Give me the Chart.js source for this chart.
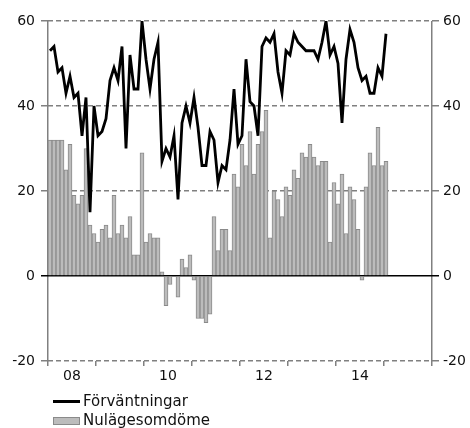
<!DOCTYPE html>
<html>
<head>
<meta charset="utf-8">
<script src="https://cdn.jsdelivr.net/npm/chart.js@4"></script>
<style>
  html, body { margin: 0; padding: 0; background: #fff; }
  #wrap { position: relative; width: 470px; height: 428px; }
  #legend { position: absolute; left: 0; top: 392px; font-family: "DejaVu Sans", Verdana, sans-serif; font-size: 15px; color: #111; }
  .item { position: absolute; left: 53px; white-space: nowrap; height: 18px; width: 300px; }
  .item span.txt { position: absolute; left: 30px; top: 0; line-height: 18px; }
  .swl { position: absolute; left: 0; top: 8px; width: 27px; height: 3px; background: #000; }
  .swb { position: absolute; left: 0; top: 6px; width: 25px; height: 6px; background: #bcbcbc; border: 1px solid #8a8a8a; }
</style>
</head>
<body>
<div id="wrap">
  <canvas id="c" width="470" height="428"></canvas>
  <div id="legend">
    <div class="item" style="top:0px"><div class="swl"></div><span class="txt">Förväntningar</span></div>
    <div class="item" style="top:19px"><div class="swb"></div><span class="txt">Nulägesomdöme</span></div>
  </div>
</div>
<script>
// Months Jan 2008 - Dec 2015 (categories)
const years = [2008, 2009, 2010, 2011, 2012, 2013, 2014, 2015];
const months = [];
for (const y of years) for (let m = 1; m <= 12; m++) months.push(y + '-' + String(m).padStart(2, '0'));

// Year tick labels (shown at mid-year)
const xTickYears = [2008, 2010, 2012, 2014];
const xTickLabels = ['08', '10', '12', '14'];

// Förväntningar (line), Jan 2008 - Jan 2015
const forvantningar = [
  53, 54, 48, 49, 43, 47, 42, 43, 33, 42, 15, 40,
  33, 34, 37, 46, 49, 46, 54, 30, 52, 44, 44, 60,
  51, 44, 51, 55, 27, 30, 28, 33, 18, 36, 40, 36,
  42, 35, 26, 26, 34, 32, 22, 26, 25, 32, 44, 31,
  33, 51, 41, 40, 33, 54, 56, 55, 57, 48, 43, 53,
  52, 57, 55, 54, 53, 53, 53, 51, 55, 60, 52, 54,
  50, 36, 51, 58, 55, 49, 46, 47, 43, 43, 49, 47,
  57
];

// Nulägesomdöme (bars), Jan 2008 - Jan 2015
const nulagesomdome = [
  32, 32, 32, 32, 25, 31, 19, 17, 19, 30, 12, 10,
  8, 11, 12, 9, 19, 10, 12, 9, 14, 5, 5, 29,
  8, 10, 9, 9, 1, -7, -2, 0, -5, 4, 2, 5,
  -1, -10, -10, -11, -9, 14, 6, 11, 11, 6, 24, 21,
  31, 26, 34, 24, 31, 34, 39, 9, 20, 18, 14, 21,
  19, 25, 23, 29, 28, 31, 28, 26, 27, 27, 8, 22,
  17, 24, 10, 21, 18, 11, -1, 21, 29, 26, 35, 26,
  27
];

const yMin = -20, yMax = 60, yStep = 20;
const GRAY = '#808080';
const CLEAR = 'rgba(0,0,0,0)';
const FONT = { family: '"DejaVu Sans", Verdana, sans-serif', size: 14 };

new Chart(document.getElementById('c'), {
  data: {
    labels: months,
    datasets: [
      {
        type: 'line',
        label: 'Förväntningar',
        data: forvantningar,
        borderColor: '#000',
        borderWidth: 2.8,
        pointRadius: 0,
        tension: 0,
        order: 0,
        yAxisID: 'y'
      },
      {
        type: 'bar',
        label: 'Nulägesomdöme',
        data: nulagesomdome,
        backgroundColor: '#bcbcbc',
        borderColor: '#8a8a8a',
        borderWidth: 1,
        barPercentage: 1,
        categoryPercentage: 1,
        order: 1,
        yAxisID: 'y'
      }
    ]
  },
  options: {
    responsive: false,
    animation: false,
    layout: { padding: { top: 21, bottom: 37, left: 0, right: 0 } },
    plugins: { legend: { display: false }, tooltip: { enabled: false } },
    scales: {
      x: {
        type: 'category',
        offset: true,
        afterFit: (s) => { s.height = 30; },
        border: { display: false },
        grid: {
          offset: true,
          drawOnChartArea: true,
          drawTicks: true,
          tickLength: 5,
          tickWidth: 1.5,
          lineWidth: 1.5,
          color: (ctx) => (ctx.index === undefined || ctx.index === 0) ? GRAY : CLEAR,
          tickColor: (ctx) => (ctx.index === undefined || ctx.index % 12 === 0) ? GRAY : CLEAR
        },
        ticks: {
          autoSkip: false,
          maxRotation: 0,
          minRotation: 0,
          padding: 2,
          labelOffset: -2,
          color: '#111',
          font: FONT,
          callback: function (val, idx) {
            const lab = months[idx];
            const y = +lab.slice(0, 4), m = +lab.slice(5);
            const k = xTickYears.indexOf(y);
            return (m === 7 && k >= 0) ? xTickLabels[k] : '';
          }
        }
      },
      y: {
        position: 'left',
        min: yMin, max: yMax,
        afterFit: (s) => { s.width = 48; },
        border: { display: false, dash: [5, 3] },
        grid: {
          drawOnChartArea: true,
          color: (ctx) => (ctx.tick && ctx.tick.value === 0) ? CLEAR : GRAY,
          lineWidth: 1.5,
          tickLength: 7,
          tickWidth: 1.5,
          tickColor: (ctx) => (ctx.tick && ctx.tick.value === 0) ? '#000' : GRAY
        },
        ticks: { stepSize: yStep, padding: 6, color: '#111', font: FONT }
      },
      y2: {
        position: 'right',
        min: yMin, max: yMax,
        afterFit: (s) => { s.width = 38; },
        border: { display: false },
        grid: {
          drawOnChartArea: true,
          color: (ctx) => (ctx.tick && ctx.tick.value === 0) ? '#000' : CLEAR,
          lineWidth: 1.5,
          tickLength: 7,
          tickWidth: 1.5,
          tickColor: (ctx) => (ctx.tick && ctx.tick.value === 0) ? '#000' : GRAY
        },
        ticks: { stepSize: yStep, padding: 4, color: '#111', font: FONT }
      }
    }
  }
});
</script>
</body>
</html>
